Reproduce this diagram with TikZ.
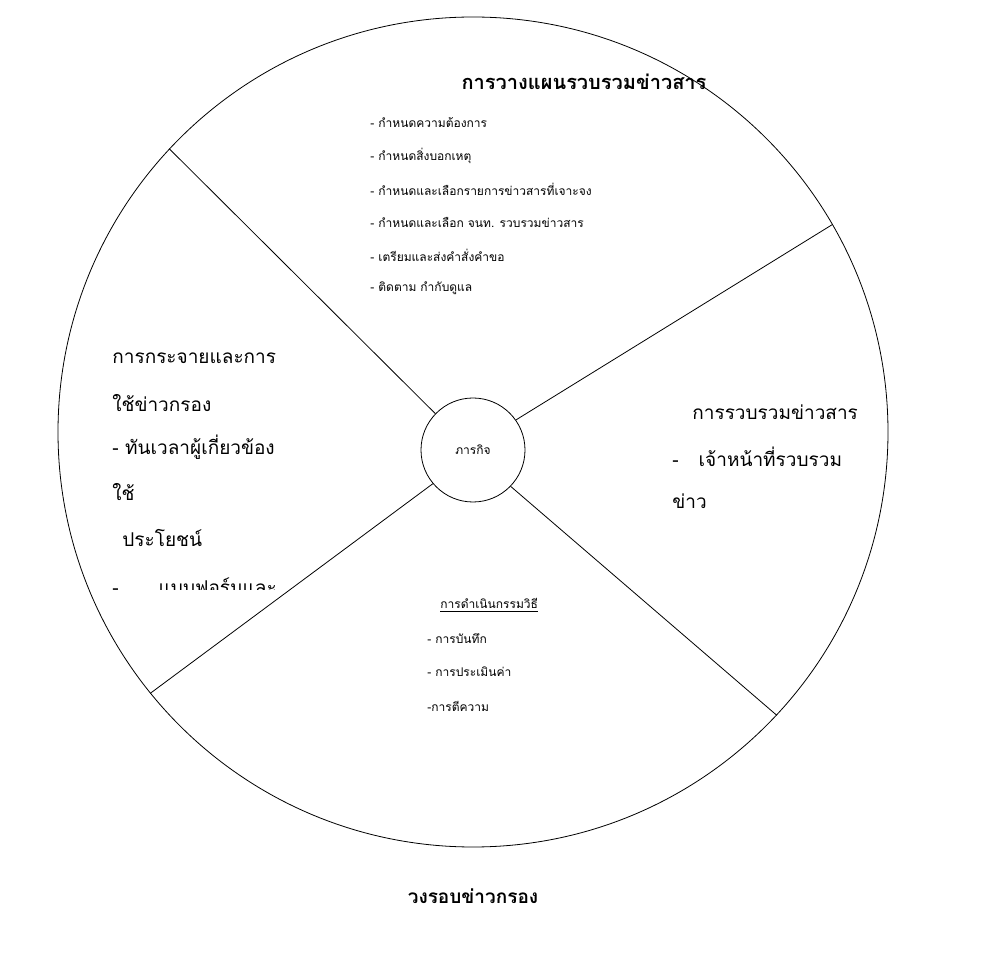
\documentclass[tikz,border=0pt]{standalone}
\usepackage{fontspec}
\newfontfamily\thai[Script=Thai]{Loma}
\usetikzlibrary{positioning}

\begin{document}
\begin{tikzpicture}[x=0.5pt,y=-0.5pt]
	\useasboundingbox (0,0) rectangle (1003,957);
	\tikzset{every node/.style={inner sep=1pt, font=\thai}}
	\tikzset{item/.style={anchor=west, font=\thai\fontsize{6}{7}\selectfont}}
	\tikzset{big/.style={anchor=west, font=\thai\fontsize{9.5}{11}\selectfont}}

	\node[circle, draw, minimum size=415pt] (wheel) at (473,432) {};
	\node[circle, draw, minimum size=52pt, font=\thai\fontsize{6}{7}\selectfont] (mission) at (473,450) {ภารกิจ};

	\draw (mission.136) to (wheel.137);
	\draw (mission.35) to (wheel.30);
	\draw (mission.-44) to (wheel.-43);
	\draw (mission.-140) to (wheel.-141);

	% top
	\node[font=\thai\bfseries\fontsize{10}{12}\selectfont] (plan) at (584,82) {การวางแผนรวบรวมข่าวสาร};
	\node[item] (p1) at (368,123) {- กำหนดความต้องการ};
	\node[item] (p2) at (368,156) {- กำหนดสิ่งบอกเหตุ};
	\node[item] (p3) at (368,189) {- กำหนดและเลือกรายการข่าวสารที่เจาะจง};
	\node[item] (p4) at (368,222) {- กำหนดและเลือก จนท.  รวบรวมข่าวสาร};
	\node[item] (p5) at (368,255) {- เตรียมและส่งคำสั่งคำขอ};
	\node[item] (p6) at (368,288) {- ติดตาม  กำกับดูแล};

	% left
	\begin{scope}
		\clip (60,330) rectangle (330,590);
		\node[big] (d1) at (110,358) {การกระจายและการ};
		\node[big] (d2) at (110,403) {ใช้ข่าวกรอง};
		\node[big] (d3) at (110,447) {- ทันเวลาผู้เกี่ยวข้อง};
		\node[big] (d4) at (110,492) {ใช้};
		\node[big] (d5) at (120,538) {ประโยชน์};
		\node[big] (d6) at (110,586) {-\hspace{20pt}แบบฟอร์มและ};
	\end{scope}

	% right
	\node[big] (c1) at (690,412) {การรวบรวมข่าวสาร};
	\node[big] (c2) at (670,457) {-\hspace{10pt}เจ้าหน้าที่รวบรวม};
	\node[big] (c3) at (670,501) {ข่าว};

	% bottom
	\node[item] (r0) at (438,605) {\underline{การดำเนินกรรมวิธี}};
	\node[item] (r1) at (425,639) {- การบันทึก};
	\node[item] (r2) at (425,672) {- การประเมินค่า};
	\node[item] (r3) at (425,706) {-การตีความ};

	\node[font=\thai\bfseries\fontsize{9.5}{11}\selectfont] (cycle) at (473,896) {วงรอบข่าวกรอง};
\end{tikzpicture}
\end{document}
